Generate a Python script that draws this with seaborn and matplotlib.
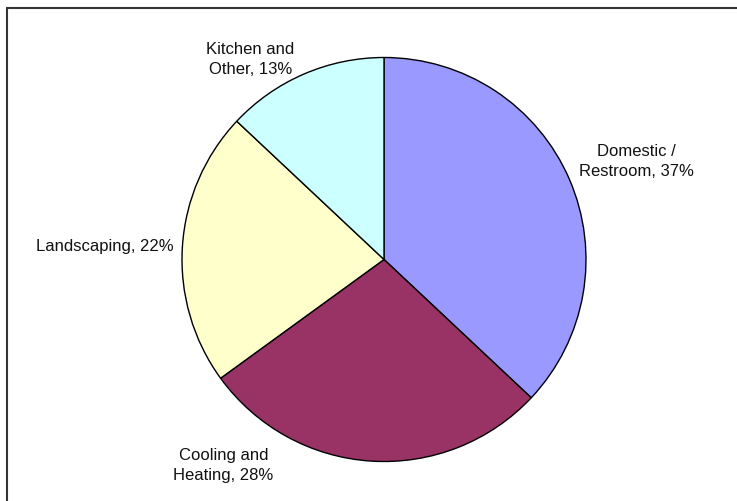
import matplotlib
matplotlib.use("Agg")
import matplotlib.pyplot as plt
from matplotlib.patches import Rectangle
import seaborn as sns

# Share of water use by end use
categories = ["Domestic /\nRestroom", "Cooling and\nHeating", "Landscaping", "Kitchen and\nOther"]
shares = [37, 28, 22, 13]
colors = ["#9999FF", "#993366", "#FFFFCC", "#CCFFFF"]
# label centres in pie-radius units
label_pos = [(1.25, 0.485), (-0.795, -1.02), (-1.384, 0.062), (-0.661, 0.989)]

sns.set_theme(style="white")
plt.rcParams["font.family"] = ["Liberation Sans", "DejaVu Sans"]

W, H, DPI = 737, 501, 100
fig = plt.figure(figsize=(W / DPI, H / DPI), dpi=DPI)
fig.patch.set_facecolor("white")

# outer chart border (extends past right/bottom edges)
fig.patches.append(Rectangle((6.5 / W, -0.1), 1.2, (H - 7.5) / H + 0.1,
                             transform=fig.transFigure, fill=False,
                             edgecolor="#333333", linewidth=1.5, zorder=0))

cx, cy, r = 384, 259.5, 202
ax = fig.add_axes([(cx - r) / W, (H - cy - r) / H, 2 * r / W, 2 * r / H])

ax.pie(shares, colors=colors, startangle=90, counterclock=False, radius=1,
       wedgeprops=dict(edgecolor="black", linewidth=1.0))
ax.set_xlim(-1, 1)
ax.set_ylim(-1, 1)
ax.set_aspect("equal")
ax.axis("off")

for cat, val, (lx, ly) in zip(categories, shares, label_pos):
    ax.text(lx, ly, f"{cat}, {val}%", ha="center", va="center", multialignment="center",
            fontsize=12, color="#111111", linespacing=1.4, clip_on=False)

fig.savefig("out.png", dpi=DPI, facecolor="white")
